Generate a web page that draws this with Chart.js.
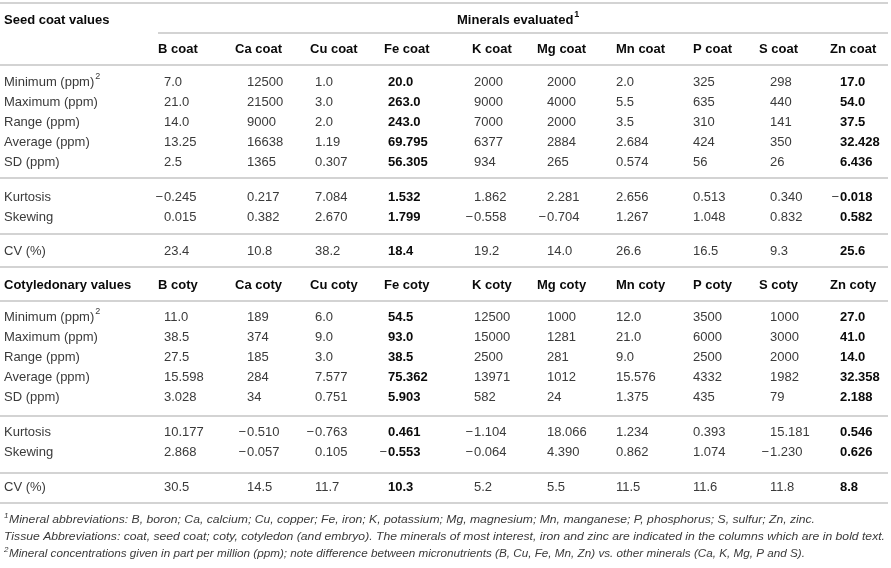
<!DOCTYPE html>
<html>
<head>
<meta charset="utf-8">
<title>Seed coat and cotyledonary mineral values</title>
<script src="https://cdn.jsdelivr.net/npm/chart.js@4.4.1/dist/chart.umd.min.js"></script>
<style>
  html, body { margin: 0; padding: 0; background: #fff; }
  canvas { display: block; }
</style>
</head>
<body>
<canvas id="tableCanvas" width="891" height="568"></canvas>
<script>
const minerals = ["B", "Ca", "Cu", "Fe", "K", "Mg", "Mn", "P", "S", "Zn"];
const boldMinerals = ["Fe", "Zn"];
const statLabels = ["Minimum (ppm)", "Maximum (ppm)", "Range (ppm)", "Average (ppm)", "SD (ppm)", "Kurtosis", "Skewing", "CV (%)"];

const coatMinimum  = ["7.0", "12500", "1.0", "20.0", "2000", "2000", "2.0", "325", "298", "17.0"];
const coatMaximum  = ["21.0", "21500", "3.0", "263.0", "9000", "4000", "5.5", "635", "440", "54.0"];
const coatRange    = ["14.0", "9000", "2.0", "243.0", "7000", "2000", "3.5", "310", "141", "37.5"];
const coatAverage  = ["13.25", "16638", "1.19", "69.795", "6377", "2884", "2.684", "424", "350", "32.428"];
const coatSD       = ["2.5", "1365", "0.307", "56.305", "934", "265", "0.574", "56", "26", "6.436"];
const coatKurtosis = ["-0.245", "0.217", "7.084", "1.532", "1.862", "2.281", "2.656", "0.513", "0.340", "-0.018"];
const coatSkewing  = ["0.015", "0.382", "2.670", "1.799", "-0.558", "-0.704", "1.267", "1.048", "0.832", "0.582"];
const coatCV       = ["23.4", "10.8", "38.2", "18.4", "19.2", "14.0", "26.6", "16.5", "9.3", "25.6"];

const cotyMinimum  = ["11.0", "189", "6.0", "54.5", "12500", "1000", "12.0", "3500", "1000", "27.0"];
const cotyMaximum  = ["38.5", "374", "9.0", "93.0", "15000", "1281", "21.0", "6000", "3000", "41.0"];
const cotyRange    = ["27.5", "185", "3.0", "38.5", "2500", "281", "9.0", "2500", "2000", "14.0"];
const cotyAverage  = ["15.598", "284", "7.577", "75.362", "13971", "1012", "15.576", "4332", "1982", "32.358"];
const cotySD       = ["3.028", "34", "0.751", "5.903", "582", "24", "1.375", "435", "79", "2.188"];
const cotyKurtosis = ["10.177", "-0.510", "-0.763", "0.461", "-1.104", "18.066", "1.234", "0.393", "15.181", "0.546"];
const cotySkewing  = ["2.868", "-0.057", "0.105", "-0.553", "-0.064", "4.390", "0.862", "1.074", "-1.230", "0.626"];
const cotyCV       = ["30.5", "14.5", "11.7", "10.3", "5.2", "5.5", "11.5", "11.6", "11.8", "8.8"];

const coatRows = [coatMinimum, coatMaximum, coatRange, coatAverage, coatSD, coatKurtosis, coatSkewing, coatCV];
const cotyRows = [cotyMinimum, cotyMaximum, cotyRange, cotyAverage, cotySD, cotyKurtosis, cotySkewing, cotyCV];

const footnotes = [
  { mark: "1", text: "Mineral abbreviations: B, boron; Ca, calcium; Cu, copper; Fe, iron; K, potassium; Mg, magnesium; Mn, manganese; P, phosphorus; S, sulfur; Zn, zinc." },
  { mark: "",  text: "Tissue Abbreviations: coat, seed coat; coty, cotyledon (and embryo). The minerals of most interest, iron and zinc are indicated in the columns which are in bold text." },
  { mark: "2", text: "Mineral concentrations given in part per million (ppm); note difference between micronutrients (B, Cu, Fe, Mn, Zn) vs. other minerals (Ca, K, Mg, P and S)." }
];

// --- Layout (in page units, mapped through the chart scales) ---
const labelX = 4;
const headX = [158, 235, 310, 384, 472, 537, 616, 693, 759, 830];
const valueX = [164, 247, 315, 388, 474, 547, 616, 693, 770, 840];
const titleY = 20;
const coatHeadY = 49;
const coatRowY = [82, 102, 122, 142, 162, 197, 217, 251];
const cotyHeadY = 285;
const cotyRowY = [317, 337, 357, 377, 397, 432, 452, 487];
const footX = [9, 4, 9];
const footY = [520, 537, 554];
const footEnd = [815, 885, 805];
// rules: [x0, x1, y]
const rules = [[0, 888, 3], [158, 888, 33], [0, 888, 65], [0, 888, 178], [0, 888, 234],
               [0, 888, 267], [0, 888, 301], [0, 888, 416], [0, 888, 473], [0, 888, 503]];

const FONT = "'Liberation Sans', Arial, Helvetica, sans-serif";
const TEXT = "#3a3a3a";
const BOLD = "#0a0a0a";
const RULE = "#c4c4c4";

// --- Build the cell points ---
function sectionCells(title, tissue, titleRowY, headY, rows, rowY) {
  const cells = [];
  cells.push({ x: labelX, y: titleRowY, text: title, bold: true, kind: "label" });
  minerals.forEach((m, c) => {
    cells.push({ x: headX[c], y: headY, text: `${m} ${tissue}`, bold: true, kind: "label" });
  });
  rows.forEach((vals, r) => {
    const sup = r === 0 ? "2" : "";
    cells.push({ x: labelX, y: rowY[r], text: statLabels[r], sup, bold: false, kind: "label" });
    vals.forEach((v, c) => {
      cells.push({ x: valueX[c], y: rowY[r], text: v, bold: boldMinerals.includes(minerals[c]), kind: "value" });
    });
  });
  return cells;
}

const coatCells = sectionCells("Seed coat values", "coat", titleY, coatHeadY, coatRows, coatRowY);
coatCells.push({ x: 457, y: titleY, text: "Minerals evaluated", sup: "1", bold: true, kind: "label" });

const cotyCells = sectionCells("Cotyledonary values", "coty", cotyHeadY, cotyHeadY, cotyRows, cotyRowY);

const footCells = footnotes.map((f, i) => ({ x: footX[i], y: footY[i], text: f.text, mark: f.mark, end: footEnd[i], kind: "foot" }));

// --- Plugin: draw rules and cell text at the element positions ---
function font(size, bold, italic) {
  return `${italic ? "italic " : ""}${bold ? "bold " : ""}${size}px ${FONT}`;
}

const tablePlugin = {
  id: "tableText",
  beforeDatasetsDraw(chart) {
    const ctx = chart.ctx;
    const xs = chart.scales.x, ys = chart.scales.y;
    ctx.save();
    ctx.strokeStyle = RULE;
    ctx.lineWidth = 1.5;
    rules.forEach(([x0, x1, y]) => {
      ctx.beginPath();
      ctx.moveTo(xs.getPixelForValue(x0), ys.getPixelForValue(y));
      ctx.lineTo(xs.getPixelForValue(x1), ys.getPixelForValue(y));
      ctx.stroke();
    });
    ctx.restore();
  },
  afterDatasetsDraw(chart) {
    const ctx = chart.ctx;
    const xs = chart.scales.x;
    ctx.save();
    ctx.textBaseline = "middle";
    chart.data.datasets.forEach((ds, di) => {
      const meta = chart.getDatasetMeta(di);
      meta.data.forEach((el, i) => {
        const cell = ds.data[i];
        const px = el.x, py = el.y;
        if (cell.kind === "foot") {
          ctx.fillStyle = TEXT;
          ctx.textAlign = "left";
          if (cell.mark) {
            ctx.font = font(8, false, true);
            ctx.fillText(cell.mark, px - 5, py - 4);
          }
          ctx.font = font(11.5, false, true);
          const w = ctx.measureText(cell.text).width;
          const sx = (xs.getPixelForValue(cell.end) - px) / w;
          ctx.save();
          ctx.translate(px, py);
          ctx.scale(sx, 1);
          ctx.fillText(cell.text, 0, 0);
          ctx.restore();
          return;
        }
        let text = cell.text;
        ctx.textAlign = "left";
        if (cell.kind === "value" && text.startsWith("-")) {
          // minus sign hangs to the left of the column, in regular weight
          ctx.font = font(13, false);
          ctx.fillStyle = TEXT;
          ctx.textAlign = "right";
          ctx.fillText("\u2212", px - 1, py);
          ctx.textAlign = "left";
          text = text.slice(1);
        }
        ctx.font = font(13, cell.bold);
        ctx.fillStyle = cell.bold ? BOLD : TEXT;
        ctx.fillText(text, px, py);
        if (cell.sup) {
          const w = ctx.measureText(text).width;
          ctx.font = font(9, cell.bold);
          ctx.fillText(cell.sup, px + w + 1, py - 5);
        }
      });
    });
    ctx.restore();
  }
};

// --- Chart ---
const canvas = document.getElementById("tableCanvas");

const cellDataset = (label, data) => ({
  label,
  data,
  pointRadius: 0,
  pointHoverRadius: 0,
  showLine: false
});

new Chart(canvas, {
  type: "scatter",
  data: {
    datasets: [
      cellDataset("Seed coat values", coatCells),
      cellDataset("Cotyledonary values", cotyCells),
      cellDataset("Footnotes", footCells)
    ]
  },
  options: {
    responsive: false,
    animation: false,
    layout: { padding: 0 },
    events: [],
    plugins: {
      legend: { display: false },
      tooltip: { enabled: false },
      title: { display: false }
    },
    scales: {
      x: { type: "linear", min: 0, max: 891, display: false },
      y: { type: "linear", min: 0, max: 568, reverse: true, display: false }
    }
  },
  plugins: [tablePlugin]
});
</script>
</body>
</html>
